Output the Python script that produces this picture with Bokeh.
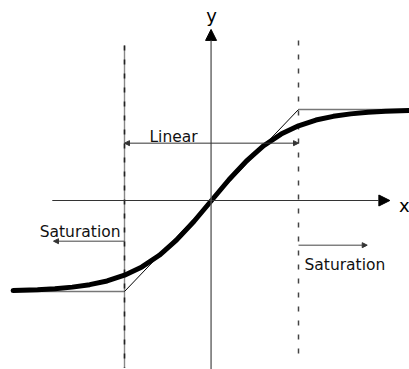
from bokeh.plotting import figure
from bokeh.models import Arrow, NormalHead, Range1d
from bokeh.core.properties import value
from bokeh.embed import file_html
from bokeh.resources import INLINE

# Sigmoid (tanh-like) transfer curve (units: linear region = -1..1, saturation = +/-1)
curve_x = [-2.28, -2.0, -1.8, -1.6, -1.4, -1.2, -1.0, -0.8, -0.6, -0.4, -0.2, 0.0,
           0.2, 0.4, 0.6, 0.8, 1.0, 1.2, 1.4, 1.6, 1.8, 2.0, 2.28]
curve_y = [-0.990, -0.981, -0.970, -0.952, -0.925, -0.884, -0.821, -0.730, -0.602, -0.433, -0.228, 0.0,
           0.228, 0.433, 0.602, 0.730, 0.821, 0.884, 0.925, 0.952, 0.970, 0.981, 0.990]

# piecewise-linear approximation
lin_x = [-1.0, 1.0]
lin_y = [-1.0, 1.0]
sat_low_x = [-2.28, -1.0]
sat_low_y = [-1.0, -1.0]
sat_high_x = [1.0, 2.28]
sat_high_y = [1.0, 1.0]

# region boundaries
bound_left = -1.0
bound_right = 1.0

labels = ["Linear", "Saturation", "Saturation"]
axis_labels = ["x", "y"]

FONT = value("DejaVu Sans")

W, H = 409, 369
p = figure(width=W, height=H, output_backend="svg", toolbar_location=None,
           min_border=0, outline_line_color=None)
p.x_range = Range1d(-211 / 87, (W - 211) / 87)
p.y_range = Range1d((200 - H) / 91, 200 / 91)
p.axis.visible = False
p.grid.visible = False
p.background_fill_color = "white"
p.border_fill_color = "white"

# axes with arrows
p.add_layout(Arrow(end=NormalHead(size=11, fill_color="black", line_color="black"),
                   x_start=-1.83, y_start=0.0, x_end=2.05, y_end=0.0,
                   line_color="#333333", line_width=1.2))
p.add_layout(Arrow(end=NormalHead(size=11, fill_color="black", line_color="black"),
                   x_start=-0.005, y_start=-1.9, x_end=-0.005, y_end=1.88,
                   line_color="#555555", line_width=1.3))
p.text(x=[2.155], y=[-0.05], text=[axis_labels[0]], text_font=FONT,
       text_font_size="18px", text_align="left", text_baseline="alphabetic", text_color="black")
p.text(x=[0.0], y=[2.03], text=[axis_labels[1]], text_font=FONT,
       text_font_size="18px", text_align="center", text_baseline="alphabetic", text_color="black")

# boundaries
p.segment(x0=[bound_left], y0=[1.703], x1=[bound_left], y1=[-1.84], line_color="#888888", line_width=1.4)
p.segment(x0=[bound_left], y0=[1.703], x1=[bound_left], y1=[-1.84], line_color="#222222",
          line_width=1.6, line_dash="5 9")
p.segment(x0=[bound_right], y0=[1.758], x1=[bound_right], y1=[-1.758], line_color="#444444",
          line_width=1.5, line_dash="5 9")

# approximation lines
p.line(sat_low_x, sat_low_y, line_color="#777777", line_width=1.4)
p.line(sat_high_x, sat_high_y, line_color="#777777", line_width=1.4)
p.line(lin_x, lin_y, line_color="black", line_width=1.0)

# curve
p.line(curve_x, curve_y, line_color="black", line_width=5, line_join="round", line_cap="round")

# Linear double arrow
p.add_layout(Arrow(start=NormalHead(size=5, fill_color="#333333", line_color="#333333"),
                   end=NormalHead(size=5, fill_color="#333333", line_color="#333333"),
                   x_start=bound_left, y_start=0.63, x_end=bound_right, y_end=0.63,
                   line_color="#333333", line_width=1))
# Saturation arrows
p.add_layout(Arrow(end=NormalHead(size=5, fill_color="#333333", line_color="#333333"),
                   x_start=bound_left, y_start=-0.447, x_end=-1.816, y_end=-0.447,
                   line_color="#444444", line_width=1))
p.add_layout(Arrow(end=NormalHead(size=5, fill_color="#333333", line_color="#333333"),
                   x_start=bound_right, y_start=-0.491, x_end=1.79, y_end=-0.491,
                   line_color="#444444", line_width=1))

p.text(x=[-0.713], y=[0.696], text=[labels[0]], text_font=FONT, text_font_size="15.5px",
       text_align="left", text_baseline="alphabetic", text_color="#111111")
p.text(x=[-1.046], y=[-0.348], text=[labels[1]], text_font=FONT, text_font_size="15.5px",
       text_align="right", text_baseline="alphabetic", text_color="#111111")
p.text(x=[1.069], y=[-0.714], text=[labels[2]], text_font=FONT, text_font_size="15.5px",
       text_align="left", text_baseline="alphabetic", text_color="#111111")

open("out.html", "w").write(file_html(p, INLINE))
